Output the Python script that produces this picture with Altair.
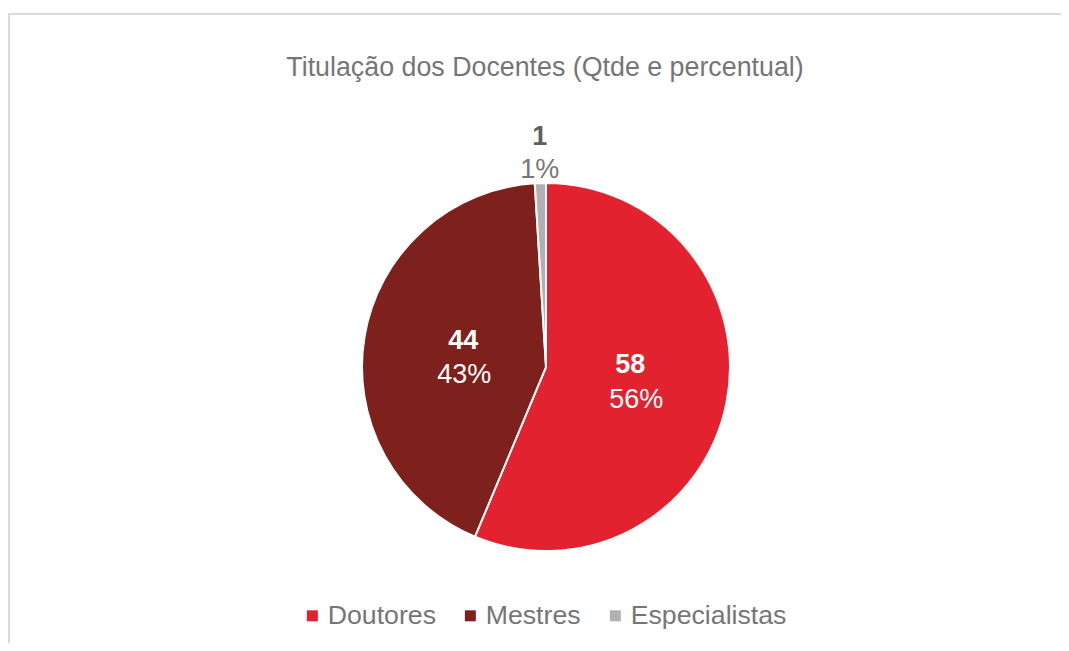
import json
import altair as alt
import pandas as pd

# ---- data ----
categorias = ["Doutores", "Mestres", "Especialistas"]
quantidades = [58, 44, 1]
cores = ["#E3222F", "#7E211C", "#B1B1B5"]
titulo = "Titulação dos Docentes (Qtde e percentual)"

df = pd.DataFrame({"categoria": categorias, "qtde": quantidades})

FONT = "Liberation Sans"
W, H = 1053, 635
CX, CY = 538, 359
R = 184
FS = 27

ordem_expr = "indexof(%s, datum.categoria)" % json.dumps(categorias)

base = (
    alt.Chart(df)
    .transform_calculate(ordem=ordem_expr)
    .transform_joinaggregate(total="sum(qtde)")
    .transform_stack(stack="qtde", as_=["s0", "s1"], groupby=[],
                     sort=[alt.SortField("ordem", order="ascending")])
    .transform_calculate(
        a0="datum.s0 / datum.total * 2 * PI",
        a1="datum.s1 / datum.total * 2 * PI",
        amid="(datum.s0 + datum.s1) / datum.total * PI",
        pct="round(datum.qtde / datum.total * 100) + '%'",
    )
)

arcs = base.mark_arc(outerRadius=R, stroke="white", strokeWidth=2).encode(
    theta=alt.Theta("a0:Q", scale=None),
    theta2="a1:Q",
    x=alt.value(CX),
    y=alt.value(CY),
    color=alt.Color(
        "categoria:N",
        scale=alt.Scale(domain=categorias, range=cores),
        sort=categorias,
        legend=alt.Legend(
            title=None,
            orient="none",
            legendX=291,
            legendY=594,
            direction="horizontal",
            symbolType="square",
            symbolSize=121,
            symbolStrokeWidth=0,
            labelFontSize=26.7,
            labelFont=FONT,
            labelColor="#767676",
            labelOffset=2,
            columnPadding=21,
            padding=0,
        ),
    ),
)

def labels(cat, radius, dy_val, dy_pct, dx_val, dx_pct, col_val, col_pct):
    b = base.transform_filter(alt.datum.categoria == cat)
    common = dict(
        theta=alt.Theta("amid:Q", scale=None),
        radius=alt.value(radius),
        x=alt.value(CX),
        y=alt.value(CY),
    )
    v = b.mark_text(font=FONT, fontSize=FS, fontWeight="bold", color=col_val,
                    baseline="alphabetic", align="center", dy=dy_val, dx=dx_val).encode(
        text="qtde:Q", **common)
    p = b.mark_text(font=FONT, fontSize=FS, color=col_pct,
                    baseline="alphabetic", align="center", dy=dy_pct, dx=dx_pct).encode(
        text="pct:N", **common)
    return v + p

lab_dout = labels("Doutores", 89, -12, 23, -3, 3, "white", "white")
lab_mest = labels("Mestres", 84, -4, 30, 0, 1, "white", "white")
lab_esp = labels("Especialistas", 205, -17, 16, 0, 0, "#5f5f5f", "#777777")

one = pd.DataFrame({"t": [titulo]})
title = alt.Chart(one).mark_text(font=FONT, fontSize=26.8, color="#767676",
                                 baseline="alphabetic", align="center").encode(
    text="t:N", x=alt.value(537), y=alt.value(68))

border_top = alt.Chart(one).mark_rule(color="#dadada", strokeWidth=2).encode(
    x=alt.value(0), x2=alt.value(W), y=alt.value(6))
border_left = alt.Chart(one).mark_rule(color="#dadada", strokeWidth=2).encode(
    x=alt.value(1), y=alt.value(5), y2=alt.value(H))

chart = (
    alt.layer(border_top, border_left, title, arcs, lab_dout, lab_mest, lab_esp)
    .properties(width=W, height=H, autosize=alt.AutoSizeParams(type="none"),
                padding=0, background="white")
    .configure_view(stroke=None)
)

chart.save("out.html", embed_options={"renderer": "svg", "actions": False})
